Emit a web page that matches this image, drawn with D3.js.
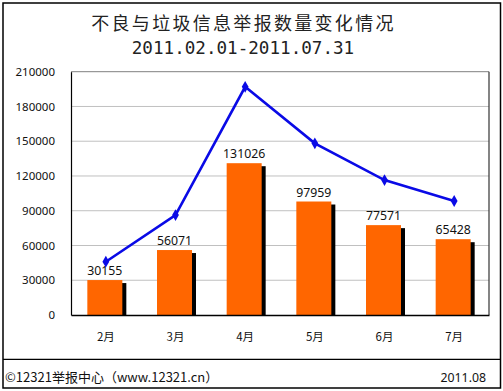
<!DOCTYPE html>
<html><head><meta charset="utf-8">
<script src="https://cdn.jsdelivr.net/npm/d3@7"></script>
<style>body{margin:0;background:#fff}svg{display:block}</style>
</head><body>
<svg id="c" width="503" height="391"></svg>
<script>
const categories = ["2月","3月","4月","5月","6月","7月"];
const barValues = [30155, 56071, 131026, 97959, 77571, 65428];
const lineValues = [46000, 86300, 197000, 148200, 116500, 98400];
const yTicks = [0, 30000, 60000, 90000, 120000, 150000, 180000, 210000];
const title1 = "不良与垃圾信息举报数量变化情况";
const title2 = "2011.02.01-2011.07.31";
const footerLeft = "©12321举报中心（www.12321.cn）";
const footerRight = "2011.08";

const svg = d3.select("#c");
const L = 71, R = 489, T = 71.7, B = 315;
const x = d3.scaleBand().domain(categories).range([L, R]).paddingInner(0).paddingOuter(0);
const y = d3.scaleLinear().domain([0, 210000]).range([B, T]);
const cjk = "'Noto Sans CJK SC','Noto Sans',sans-serif";

// outer border
svg.append("rect").attr("x",3).attr("y",3).attr("width",497.5).attr("height",385)
  .attr("fill","none").attr("stroke","#000").attr("stroke-width",1.5);
svg.append("line").attr("x1",3).attr("x2",500.5).attr("y1",359.3).attr("y2",359.3)
  .attr("stroke","#000").attr("stroke-width",1.2);

// titles
svg.append("text").attr("x",243.5).attr("y",30).attr("text-anchor","middle")
  .attr("font-family",cjk).attr("font-size",18).attr("letter-spacing","2.3px").attr("fill","#222").text(title1);
svg.append("text").attr("x",243).attr("y",54).attr("text-anchor","middle")
  .attr("font-family","'DejaVu Sans Mono',monospace").attr("font-size",17.6).attr("fill","#222").text(title2);

// gridlines
svg.append("g").selectAll("line").data(yTicks.filter(d=>d>0)).join("line")
  .attr("x1",L).attr("x2",R).attr("y1",d=>y(d)).attr("y2",d=>y(d))
  .attr("stroke", d=> d===210000 ? "#808080" : "#c0c0c0").attr("stroke-width",1);
// right border of plot
svg.append("line").attr("x1",R).attr("x2",R).attr("y1",T).attr("y2",B).attr("stroke","#333").attr("stroke-width",1.2);

// y axis
const yAxis = d3.axisLeft(y).tickValues(yTicks).tickSize(0).tickPadding(16).tickFormat(d3.format("d"));
const gy = svg.append("g").attr("transform",`translate(${L},0)`).call(yAxis);
gy.select(".domain").attr("stroke","#000").attr("stroke-width",1.2);
gy.selectAll("text").attr("font-family","'Noto Sans',sans-serif").attr("font-size",11.5).attr("fill","#111");

// x axis
const xAxis = d3.axisBottom(x).tickSize(0).tickPadding(18);
const gx = svg.append("g").attr("transform",`translate(0,${B})`).call(xAxis);
gx.select(".domain").attr("stroke","#000").attr("stroke-width",1.5);
gx.selectAll("text").attr("font-family",cjk).attr("font-size",11.5).attr("fill","#111");

// bars with shadow
const bw = 35;
const bx = d => x(d) + x.bandwidth()/2 - 18.5;
const bars = svg.append("g");
bars.selectAll("rect.sh").data(categories).join("rect").attr("class","sh")
  .attr("x",d=>bx(d)+4).attr("y",(d,i)=>y(barValues[i])+3)
  .attr("width",bw).attr("height",(d,i)=>B-y(barValues[i])-3).attr("fill","#000");
bars.selectAll("rect.b").data(categories).join("rect").attr("class","b")
  .attr("x",d=>bx(d)).attr("y",(d,i)=>y(barValues[i]))
  .attr("width",bw).attr("height",(d,i)=>B-y(barValues[i])).attr("fill","#ff6600");
gx.raise();
svg.append("g").selectAll("text").data(categories).join("text")
  .attr("x",d=>bx(d)+bw/2).attr("y",(d,i)=>y(barValues[i])-5).attr("text-anchor","middle")
  .attr("font-family","'Noto Sans',sans-serif").attr("font-size",12.3).attr("fill","#111")
  .text((d,i)=>barValues[i]);

// line
const cx = d => x(d) + x.bandwidth()/2;
const line = d3.line().x((d,i)=>cx(categories[i])).y(d=>y(d));
svg.append("path").datum(lineValues).attr("d",line).attr("fill","none")
  .attr("stroke","#0a0ae6").attr("stroke-width",2.6);
svg.append("g").selectAll("path").data(lineValues).join("path")
  .attr("d",d3.symbol(d3.symbolDiamond,40))
  .attr("transform",(d,i)=>`translate(${cx(categories[i])},${y(d)})`).attr("fill","#0a0ae6");

// footer
svg.append("text").attr("x",5).attr("y",381.5).attr("font-family",cjk).attr("font-size",13)
  .attr("fill","#111").text(footerLeft);
svg.append("text").attr("x",486).attr("y",381.5).attr("text-anchor","end").attr("font-family","'Noto Sans',sans-serif")
  .attr("font-size",12.3).attr("fill","#111").text(footerRight);
</script>
</body></html>
